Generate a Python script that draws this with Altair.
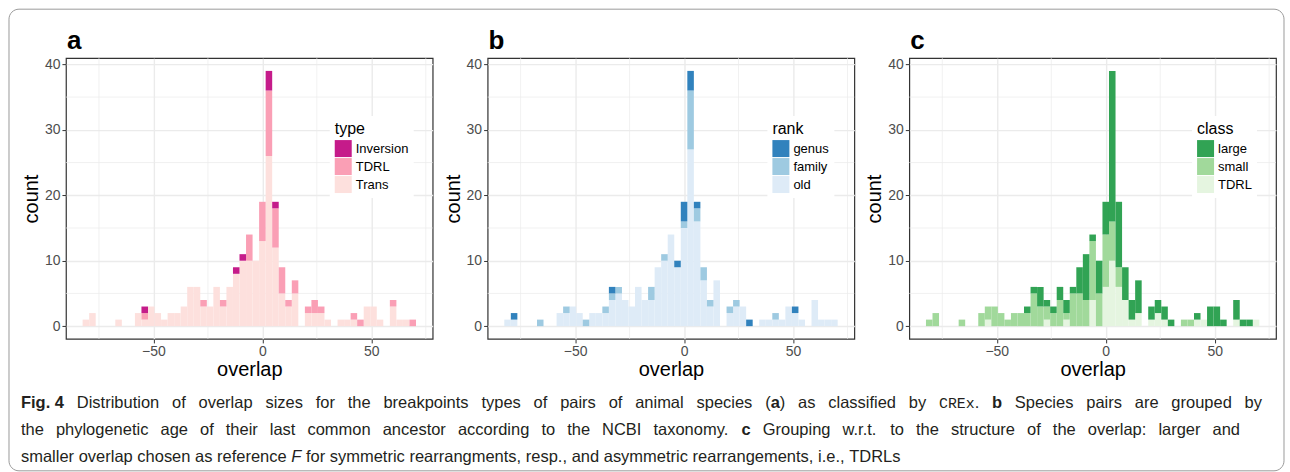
import altair as alt
import pandas as pd

# ---------------- data ----------------
bin_centers = [-81, -78, -75, -72, -69, -66, -63, -60, -57, -54, -51, -48, -45, -42, -39,
               -36, -33, -30, -27, -24, -21, -18, -15, -12, -9, -6, -3, 0, 3, 6, 9, 12,
               15, 18, 21, 24, 27, 30, 33, 36, 39, 42, 45, 48, 51, 54, 57, 60, 63, 66, 69]
bin_width = 3

# panel a: type
trans_a = [1, 2, 0, 0, 0, 1, 0, 0, 2, 1, 3, 2, 1, 2, 2, 3, 6, 6, 3, 3, 6, 3, 6, 8, 10, 10,
           10, 13, 26, 12, 5, 3, 5, 0, 2, 2, 2, 1, 0, 1, 1, 1, 0, 3, 3, 1, 0, 3, 1, 1, 0]
tdrl_a = [0, 0, 0, 0, 0, 0, 0, 0, 0, 1, 0, 0, 0, 0, 0, 0, 0, 0, 1, 0, 0, 1, 0, 0, 0, 4,
          0, 6, 10, 6, 4, 1, 2, 0, 1, 2, 1, 0, 0, 0, 0, 1, 1, 0, 0, 0, 0, 1, 0, 0, 1]
inv_a = [0, 0, 0, 0, 0, 0, 0, 0, 0, 1, 0, 0, 0, 0, 0, 0, 0, 0, 0, 0, 0, 0, 0, 1, 1, 0,
         0, 0, 3, 1, 0, 0, 0, 0, 0, 0, 0, 0, 0, 0, 0, 0, 0, 0, 0, 0, 0, 0, 0, 0, 0]

# panel b: rank
old_b = [1, 1, 0, 0, 0, 0, 0, 0, 2, 2, 3, 2, 0, 2, 2, 2, 4, 5, 4, 3, 6, 4, 4, 9, 10, 14,
         9, 15, 27, 16, 7, 3, 7, 0, 2, 3, 3, 0, 0, 1, 1, 1, 1, 3, 2, 1, 0, 4, 1, 1, 1]
family_b = [0, 0, 0, 0, 0, 1, 0, 0, 0, 1, 0, 0, 1, 0, 0, 1, 1, 1, 0, 0, 0, 0, 2, 0, 1, 0,
            0, 1, 9, 2, 2, 1, 0, 0, 1, 1, 0, 0, 0, 0, 0, 1, 0, 0, 0, 0, 0, 0, 0, 0, 0]
genus_b = [0, 1, 0, 0, 0, 0, 0, 0, 0, 0, 0, 0, 0, 0, 0, 0, 1, 0, 0, 0, 0, 0, 0, 0, 0, 0,
           1, 3, 3, 1, 0, 0, 0, 0, 0, 0, 0, 1, 0, 0, 0, 0, 0, 0, 1, 0, 0, 0, 0, 0, 0]

# panel c: class
large_c = [0, 0, 0, 0, 0, 0, 0, 0, 0, 0, 0, 0, 0, 0, 0, 1, 1, 3, 1, 1, 2, 2, 1, 4, 7, 1,
           5, 5, 23, 10, 5, 3, 5, 0, 2, 2, 2, 1, 0, 0, 0, 1, 0, 3, 3, 1, 0, 3, 1, 1, 0]
small_c = [1, 2, 0, 0, 0, 1, 0, 0, 2, 2, 3, 2, 1, 2, 2, 2, 5, 3, 2, 2, 4, 1, 5, 5, 4, 9,
           5, 8, 6, 3, 0, 0, 0, 0, 0, 0, 0, 0, 0, 1, 1, 0, 0, 0, 0, 0, 0, 0, 0, 0, 0]
tdrl_c = [0, 0, 0, 0, 0, 0, 0, 0, 0, 1, 0, 0, 0, 0, 0, 0, 0, 0, 1, 0, 0, 1, 0, 0, 0, 4,
          0, 6, 10, 6, 4, 1, 2, 0, 1, 2, 1, 0, 0, 0, 0, 1, 1, 0, 0, 0, 0, 1, 0, 0, 1]

x_ticks = [-50, 0, 50]
x_minor = [-75, -25, 25, 75]
y_ticks = [0, 10, 20, 30, 40]
y_minor = [5, 15, 25, 35]

# caption: each line is a list of words; a word is a list of (run, style)
R, B, I, M = "regular", "bold", "italic", "mono"
caption_lines = [
    [[("Fig. 4", B)]] + [[(w, R)] for w in
        "Distribution of overlap sizes for the breakpoints types of pairs of animal species".split()]
    + [[("(", R), ("a", B), (")", R)]] + [[(w, R)] for w in "as classified by".split()]
    + [[("CREx", M), (".", R)], [("b", B)]]
    + [[(w, R)] for w in "Species pairs are grouped by".split()],
    [[(w, R)] for w in
        "the phylogenetic age of their last common ancestor according to the NCBI taxonomy.".split()]
    + [[("c", B)]] + [[(w, R)] for w in
        "Grouping w.r.t. to the structure of the overlap: larger and".split()],
    [[(w, R)] for w in "smaller overlap chosen as reference".split()] + [[("F", I)]]
    + [[(w, R)] for w in
        "for symmetric rearrangments, resp., and asymmetric rearrangements, i.e., TDRLs".split()],
]
caption_right = [1262, 1240, None]   # justified lines end here; None = natural spacing

# ---------------- layout constants ----------------
FONT = "Liberation Sans"
PW, PH = 367, 281
ORIGIN_X, ORIGIN_Y = 65, 57
LINE_Y = [407, 434, 461]
CAP_X0 = 20
CAP_SIZE = 16.5

# Arial / Liberation Sans advance widths (1/1000 em)
W_REG = {" ": 278, "(": 333, ")": 333, ",": 278, "-": 333, ".": 278, ":": 278,
         "A": 667, "B": 667, "C": 722, "D": 722, "E": 667, "F": 611, "G": 778, "H": 722,
         "I": 278, "L": 556, "N": 722, "R": 722, "S": 667, "T": 611, "x": 500,
         "a": 556, "b": 556, "c": 500, "d": 556, "e": 556, "f": 278, "g": 556, "h": 556,
         "i": 222, "j": 222, "k": 500, "l": 222, "m": 833, "n": 556, "o": 556, "p": 556,
         "q": 556, "r": 333, "s": 500, "t": 278, "u": 556, "v": 500, "w": 722, "y": 500,
         "z": 500, "4": 556}
W_BOLD = {"F": 611, "i": 278, "g": 611, ".": 278, " ": 278, "4": 556, "a": 556, "b": 611,
          "c": 556}


def run_width(text, style, size):
    if style == M:
        return 0.6 * len(text) * size * 0.9
    table = W_BOLD if style == B else W_REG
    return sum(table.get(ch, 556) for ch in text) / 1000 * size


cap_rows = []
for ln, words in enumerate(caption_lines):
    widths = [sum(run_width(t, s, CAP_SIZE) for t, s in w) for w in words]
    natural_space = 0.278 * CAP_SIZE
    if caption_right[ln] is not None:
        space = (caption_right[ln] - CAP_X0 - sum(widths)) / (len(words) - 1)
    else:
        space = natural_space
    x = CAP_X0
    for w, ww in zip(words, widths):
        xx = x
        for t, s in w:
            cap_rows.append({"t": t, "style": s, "px": xx - ORIGIN_X, "py": LINE_Y[ln] - ORIGIN_Y})
            xx += run_width(t, s, CAP_SIZE)
        x += ww + space
cap_df = pd.DataFrame(cap_rows)

x_scale = alt.Scale(domain=[-90.15, 78.15], nice=False, zero=False)
y_scale = alt.Scale(domain=[-1.95, 40.95], nice=False, zero=False)
x_axis = alt.Axis(values=x_ticks, title="overlap", grid=True, titlePadding=1)
y_axis = alt.Axis(values=y_ticks, title="count", grid=True)


def panel_df(names, series):
    rows = []
    for order, (name, vals) in enumerate(zip(names, series)):
        for c, v in zip(bin_centers, vals):
            rows.append({"x0": c - bin_width / 2, "x1": c + bin_width / 2,
                         "group": name, "n": v, "ord": order})
    return pd.DataFrame(rows)


def make_panel(letter, legend_title, names_bottom_first, series, colors_bottom_first, legend_x,
               extra=None):
    df = panel_df(names_bottom_first, series)
    legend_domain = list(reversed(names_bottom_first))
    legend_range = list(reversed(colors_bottom_first))

    minor_x = alt.Chart(pd.DataFrame({"v": x_minor})).mark_rule(
        color="#EBEBEB", strokeWidth=0.7).encode(x=alt.X("v:Q", scale=x_scale, axis=x_axis))
    minor_y = alt.Chart(pd.DataFrame({"v": y_minor})).mark_rule(
        color="#EBEBEB", strokeWidth=0.7).encode(y=alt.Y("v:Q", scale=y_scale, axis=y_axis))

    bars = alt.Chart(df).transform_stack(
        stack="n", groupby=["x0"], as_=["y0", "y1"], sort=[alt.SortField("ord", "ascending")]
    ).mark_rect(strokeWidth=0).encode(
        x=alt.X("x0:Q", scale=x_scale, axis=x_axis),
        x2="x1:Q",
        y=alt.Y("y0:Q", scale=y_scale, axis=y_axis),
        y2="y1:Q",
        color=alt.Color("group:N",
                        scale=alt.Scale(domain=legend_domain, range=legend_range),
                        legend=alt.Legend(title=legend_title, orient="none",
                                          legendX=legend_x, legendY=58,
                                          fillColor="white", padding=5,
                                          symbolType="square", symbolSize=289,
                                          symbolStrokeWidth=0, symbolOpacity=1,
                                          rowPadding=1, labelOffset=4, titlePadding=3,
                                          titleFontSize=16, titleFontWeight="normal",
                                          labelFontSize=13, labelColor="black",
                                          titleColor="black", labelFont=FONT,
                                          titleFont=FONT)),
    )
    letter_mark = alt.Chart(pd.DataFrame({"t": [letter]})).mark_text(
        align="left", baseline="alphabetic", fontSize=26, fontWeight="bold",
        font=FONT, color="black").encode(x=alt.value(1), y=alt.value(-9), text="t:N")
    layers = [minor_x, minor_y, bars, letter_mark]
    if extra:
        layers += extra
    return alt.layer(*layers).properties(width=PW, height=PH)


# frame and caption (drawn in panel a's coordinate space)
frame = alt.Chart(pd.DataFrame({"k": [0]})).mark_rect(
    filled=False, stroke="#9a9a9a", strokeWidth=1, cornerRadius=10).encode(
    x=alt.value(8 - ORIGIN_X), x2=alt.value(1284 - ORIGIN_X),
    y=alt.value(8 - ORIGIN_Y), y2=alt.value(470 - ORIGIN_Y))

styles = {
    R: dict(font=FONT, fontWeight="normal", fontStyle="normal", fontSize=CAP_SIZE),
    B: dict(font=FONT, fontWeight="bold", fontStyle="normal", fontSize=CAP_SIZE),
    I: dict(font=FONT, fontWeight="normal", fontStyle="italic", fontSize=CAP_SIZE),
    M: dict(font="Liberation Mono", fontWeight="normal", fontStyle="normal",
            fontSize=CAP_SIZE * 0.9),
}
cap_layers = []
for sname, sty in styles.items():
    cap_layers.append(
        alt.Chart(cap_df).transform_filter(alt.datum.style == sname).mark_text(
            align="left", baseline="alphabetic", color="#231F20", **sty).encode(
            x=alt.X("px:Q", scale=None), y=alt.Y("py:Q", scale=None), text="t:N"))

panel_a = make_panel("a", "type", ["Trans", "TDRL", "Inversion"],
                     [trans_a, tdrl_a, inv_a], ["#FDE0DD", "#FA9FB5", "#C51B8A"], 264,
                     extra=[frame] + cap_layers)
panel_b = make_panel("b", "rank", ["old", "family", "genus"],
                     [old_b, family_b, genus_b], ["#DEEBF7", "#9ECAE1", "#3182BD"], 280)
panel_c = make_panel("c", "class", ["TDRL", "small", "large"],
                     [tdrl_c, small_c, large_c], ["#E5F5E0", "#A1D99B", "#31A354"], 283)

chart = alt.hconcat(panel_a, panel_b, panel_c, spacing=55, bounds="flush").resolve_scale(
    color="independent"
).properties(
    padding={"left": 7, "top": 7, "right": 4, "bottom": 0},
    background="white",
).configure_view(stroke="#333333", strokeWidth=1.2).configure_axis(
    labelFont=FONT, titleFont=FONT, labelFontSize=14, titleFontSize=20,
    labelColor="#4D4D4D", titleColor="black", titleFontWeight="normal",
    tickColor="#333333", tickSize=4, tickWidth=1, labelPadding=2, titlePadding=3,
    domain=False, gridColor="#EBEBEB", gridWidth=1.4,
)

chart.save("out.html", embed_options={"renderer": "svg", "actions": False})
